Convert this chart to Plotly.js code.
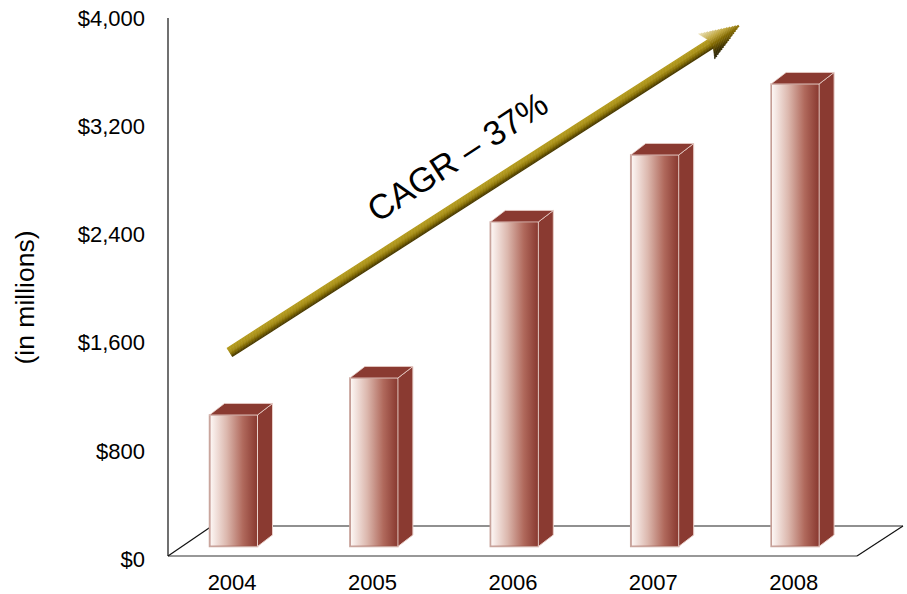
<!DOCTYPE html>
<html><head><meta charset="utf-8">
<script src="https://cdn.plot.ly/plotly-3.0.1.min.js"></script>
<style>html,body{margin:0;padding:0;background:#fff}#c{width:907px;height:594px}</style>
</head><body><div id="c"></div>
<script>
const years = [2004, 2005, 2006, 2007, 2008];
const yearLabels = ['2004', '2005', '2006', '2007', '2008'];
const revenue = [978, 1253, 2413, 2911, 3439];
const valueTicks = [0, 800, 1600, 2400, 3200, 4000];
const valueTickLabels = ['$0', '$800', '$1,600', '$2,400', '$3,200', '$4,000'];

const W = 907, H = 594;
const L = 168, R = 903, T = 18, B = 559;
const pxPerYear = 140.4, firstCentre = 233.5;
const pxPerUnit = 0.1345, floorY = 546.5;
const barPx = 48, depthX = 15, depthY = 11.5;
const dX = depthX / pxPerYear, dY = depthY / pxPerUnit, hw = (barPx / pxPerYear) / 2;
const xRange = [years[0] + (L - firstCentre) / pxPerYear, years[0] + (R - firstCentre) / pxPerYear];
const y2Range = [(floorY - B) / pxPerUnit, (floorY - T) / pxPerUnit];
const side = '#8a3a31', edge = '#e9cfc9';

const traces = [
  {type: 'scatter', mode: 'markers', x: [years[0]], y: [valueTicks[0]], marker: {opacity: 0, size: 1}, hoverinfo: 'skip'},
  {type: 'bar', x: years, y: revenue, width: barPx / pxPerYear, yaxis: 'y2',
   marker: {color: side, line: {color: '#c9a59d', width: 1.5}}, hoverinfo: 'x+y'}
];
years.forEach((yr, i) => {
  const v = revenue[i];
  traces.push({type: 'scatter', mode: 'lines', yaxis: 'y2', fill: 'toself', hoverinfo: 'skip',
    x: [yr + hw, yr + hw + dX, yr + hw + dX, yr + hw, yr + hw],
    y: [0, dY, v + dY, v, 0], line: {color: edge, width: 1}, fillcolor: side});
  traces.push({type: 'scatter', mode: 'lines', yaxis: 'y2', fill: 'toself', hoverinfo: 'skip',
    x: [yr - hw, yr - hw + dX, yr + hw + dX, yr + hw, yr - hw],
    y: [v, v + dY, v + dY, v, v], line: {color: edge, width: 0.8}, fillcolor: side});
  traces.push({type: 'scatter', mode: 'lines', yaxis: 'y2', fill: 'toself', hoverinfo: 'skip',
    x: [yr - hw + 0.006, yr - hw + 0.006, yr + hw - 0.004, yr + hw - 0.004, yr - hw + 0.006],
    y: [5, v - 5, v - 5, 5, 5], line: {width: 0},
    fillgradient: {type: 'horizontal', colorscale: [[0, '#fdf7f5'], [0.35, '#dcb8ae'], [0.7, '#b0695c'], [1, '#8a3a31']]}});
});

const px = x => (x - L) / (R - L), py = y => (B - y) / (B - T);
const seg = (x0, y0, x1, y1, color, width, layer) => ({type: 'line', xref: 'paper', yref: 'paper', layer: layer || 'above',
  x0: px(x0), y0: py(y0), x1: px(x1), y1: py(y1), line: {color, width}});
const shapes = [
  seg(168, 18, 168, 556, '#111', 1.2, 'below'),
  seg(168, 556, 857, 556, '#333', 1.2, 'below'),
  seg(168, 556, 212, 526, '#111', 1.2, 'below'),
  seg(212, 526, 903, 526, '#222', 1.2, 'below'),
  seg(857, 556, 903, 526, '#111', 1.2, 'below')
];
// arrow built from stripes running along its direction
const tail = [229.5, 352.5], tip = [740, 25];
const len = Math.hypot(tip[0] - tail[0], tip[1] - tail[1]);
const ux = (tip[0] - tail[0]) / len, uy = (tip[1] - tail[1]) / len, vx = -uy, vy = ux;
const hexLerp = (stops, t) => {
  t = Math.max(0, Math.min(1, t));
  for (let k = 1; k < stops.length; k++) if (t <= stops[k][0]) {
    const a = stops[k - 1], b = stops[k], f = (t - a[0]) / (b[0] - a[0]);
    const c = [0, 1, 2].map(j => Math.round(a[1][j] + (b[1][j] - a[1][j]) * f));
    return `rgb(${c})`;
  }
  return `rgb(${stops[stops.length - 1][1]})`;
};
const gradShaft = [[0, [180, 155, 30]], [0.4, [170, 145, 25]], [0.75, [125, 102, 0]], [1, [75, 60, 0]]];
const gradHead = [[0, [238, 228, 190]], [0.35, [190, 165, 60]], [0.55, [130, 105, 0]], [0.8, [60, 48, 0]], [1, [40, 35, 10]]];
const headLen = 40, headHalf = 15, notch = 35, shaftHalf = 4.8;
const pt = (u, v) => [tip[0] + ux * u + vx * v, tip[1] + uy * u + vy * v];
for (let v = -shaftHalf; v <= shaftHalf; v += 0.8) {
  const a = pt(-len, v), b = pt(-notch + 1, v);
  shapes.push(seg(a[0], a[1], b[0], b[1], hexLerp(gradShaft, (v + shaftHalf) / (2 * shaftHalf)), 1.3));
}
for (let v = -headHalf + 0.5; v <= headHalf - 0.5; v += 1) {
  const av = Math.abs(v);
  const back = -headLen + (headHalf - av) / (headHalf - shaftHalf) * (headLen - notch);
  const a = pt(Math.min(back, -notch), v), b = pt(-headLen * av / headHalf, v);
  shapes.push(seg(a[0], a[1], b[0], b[1], hexLerp(gradHead, (v + headHalf) / (2 * headHalf)), 1.4));
}

const font = {family: '"Liberation Sans", Arial, sans-serif', color: '#000'};
const layout = {
  width: W, height: H, showlegend: false, paper_bgcolor: '#fff', plot_bgcolor: 'rgba(0,0,0,0)',
  margin: {l: L, r: W - R, t: T, b: H - B, pad: 0},
  xaxis: {type: 'linear', range: xRange, tickmode: 'array', tickvals: years.map(y => y - 0.01), ticktext: yearLabels,
    showgrid: false, zeroline: false, showline: false, ticks: '', ticklabelstandoff: 8,
    tickfont: {...font, size: 22}, fixedrange: true},
  yaxis: {range: [0, 4000], tickmode: 'array', tickvals: valueTicks, ticktext: valueTickLabels,
    showgrid: false, zeroline: false, showline: false, ticks: '', ticklabelstandoff: 22,
    tickfont: {...font, size: 22}, fixedrange: true},
  yaxis2: {overlaying: 'y', range: y2Range, visible: false, fixedrange: true},
  shapes,
  annotations: [
    {xref: 'paper', yref: 'paper', x: px(24.5), y: py(298), xanchor: 'center', yanchor: 'middle', text: '(in millions)', showarrow: false,
     textangle: -90, font: {...font, size: 26.5}},
    {xref: 'paper', yref: 'paper', x: px(457), y: py(157), xanchor: 'center', yanchor: 'middle', text: 'CAGR – 37%', showarrow: false,
     textangle: -33, font: {...font, size: 34.5}}
  ]
};
Plotly.newPlot('c', traces, layout, {displayModeBar: false, staticPlot: true});
</script></body></html>
